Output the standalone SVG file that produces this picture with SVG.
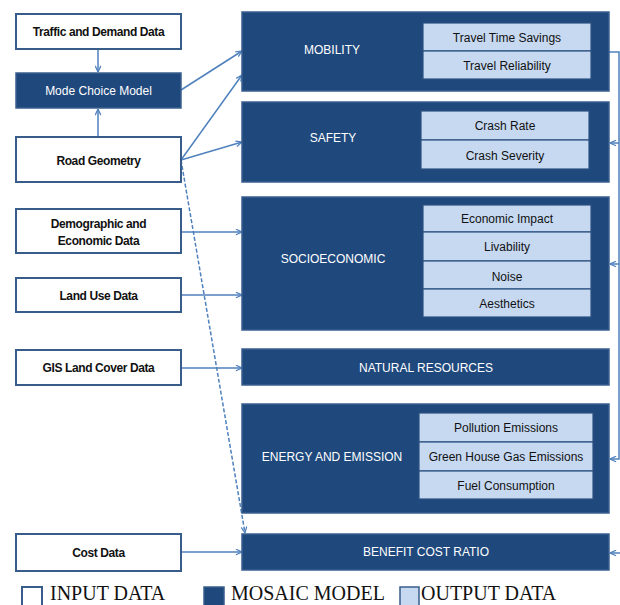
<svg xmlns="http://www.w3.org/2000/svg" width="620" height="605" viewBox="0 0 620 605">
<defs>
<marker id="arr" viewBox="0 0 8 8" refX="7.5" refY="4" markerWidth="7" markerHeight="7" orient="auto" markerUnits="userSpaceOnUse">
<path d="M0.5,0.8 L7.5,4 L0.5,7.2" fill="none" stroke="#4f81bd" stroke-width="1.4"/>
</marker>
</defs>
<style>
.in{fill:#ffffff;stroke:#385d8a;stroke-width:2}
.dk{fill:#1f497d;stroke:#3a5f8f;stroke-width:1.5}
.lt{fill:#c6d9f1;stroke:#2c5080;stroke-width:1.2}
.tin{font-family:"Liberation Sans",Arial,sans-serif;font-size:12px;font-weight:bold;fill:#111111;text-anchor:middle;letter-spacing:-0.4px}
.tdk{font-family:"Liberation Sans",Arial,sans-serif;font-size:12px;fill:#ffffff;text-anchor:middle}
.tlt{font-family:"Liberation Sans",Arial,sans-serif;font-size:12px;fill:#111111;text-anchor:middle}
.leg{font-family:"Liberation Serif","Times New Roman",serif;font-size:20px;fill:#111111}
.c{fill:none;stroke:#4f81bd;stroke-width:1.5}
</style>

<g id="connectors">
<line class="c" x1="98" y1="49" x2="98" y2="72" marker-end="url(#arr)"/>
<line class="c" x1="98" y1="137" x2="98" y2="109" marker-end="url(#arr)"/>
<line class="c" x1="181" y1="90" x2="242" y2="51" marker-end="url(#arr)"/>
<line class="c" x1="181" y1="160" x2="242" y2="75" marker-end="url(#arr)"/>
<line class="c" x1="181" y1="160" x2="242" y2="142" marker-end="url(#arr)"/>
<line class="c" x1="181" y1="160" x2="245" y2="533" stroke-dasharray="4,2" marker-end="url(#arr)"/>
<line class="c" x1="181" y1="232" x2="242" y2="232" marker-end="url(#arr)"/>
<line class="c" x1="181" y1="295" x2="242" y2="295" marker-end="url(#arr)"/>
<line class="c" x1="181" y1="368" x2="242" y2="368" marker-end="url(#arr)"/>
<line class="c" x1="181" y1="552" x2="242" y2="552" marker-end="url(#arr)"/>
<polyline class="c" points="609,52 619,52 619,459 610,459" marker-end="url(#arr)"/>
<line class="c" x1="619" y1="143" x2="610" y2="143" marker-end="url(#arr)"/>
<line class="c" x1="619" y1="264" x2="610" y2="264" marker-end="url(#arr)"/>
<line class="c" x1="621" y1="553" x2="610" y2="553" marker-end="url(#arr)"/>
</g>

<g id="traffic">
<rect class="in" x="16" y="14" width="165" height="35"/>
<text class="tin" x="98.5" y="36">Traffic and Demand Data</text>
</g>
<g id="modechoice">
<rect class="dk" x="16" y="73" width="165" height="35"/>
<text class="tdk" x="98.5" y="95">Mode Choice Model</text>
</g>
<g id="roadgeometry">
<rect class="in" x="16" y="137" width="165" height="45"/>
<text class="tin" x="98.5" y="165">Road Geometry</text>
</g>
<g id="demographic">
<rect class="in" x="16" y="209" width="165" height="44"/>
<text class="tin" x="98.5" y="228">Demographic and</text>
<text class="tin" x="98.5" y="245">Economic Data</text>
</g>
<g id="landuse">
<rect class="in" x="16" y="278" width="165" height="34"/>
<text class="tin" x="98.5" y="300">Land Use Data</text>
</g>
<g id="gis">
<rect class="in" x="16" y="350" width="165" height="35"/>
<text class="tin" x="98.5" y="372">GIS Land Cover Data</text>
</g>
<g id="cost">
<rect class="in" x="16" y="534" width="165" height="37"/>
<text class="tin" x="98.5" y="557">Cost Data</text>
</g>

<g id="mobility">
<rect class="dk" x="242" y="12" width="367" height="79"/>
<text class="tdk" x="332" y="54">MOBILITY</text>
<rect class="lt" x="423" y="23" width="168" height="28"/>
<text class="tlt" x="507" y="42">Travel Time Savings</text>
<rect class="lt" x="423" y="51" width="168" height="28"/>
<text class="tlt" x="507" y="70">Travel Reliability</text>
</g>
<g id="safety">
<rect class="dk" x="242" y="102" width="367" height="80"/>
<text class="tdk" x="333" y="142">SAFETY</text>
<rect class="lt" x="421" y="111" width="168" height="29"/>
<text class="tlt" x="505" y="130">Crash Rate</text>
<rect class="lt" x="421" y="140" width="168" height="29"/>
<text class="tlt" x="505" y="160">Crash Severity</text>
</g>
<g id="socioeconomic">
<rect class="dk" x="242" y="197" width="367" height="133"/>
<text class="tdk" x="333" y="263">SOCIOECONOMIC</text>
<rect class="lt" x="423" y="205" width="168" height="27"/>
<text class="tlt" x="507" y="223">Economic Impact</text>
<rect class="lt" x="423" y="232" width="168" height="29"/>
<text class="tlt" x="507" y="251">Livability</text>
<rect class="lt" x="423" y="261" width="168" height="28"/>
<text class="tlt" x="507" y="281">Noise</text>
<rect class="lt" x="423" y="289" width="168" height="28"/>
<text class="tlt" x="507" y="308">Aesthetics</text>
</g>
<g id="natural">
<rect class="dk" x="242" y="349" width="367" height="36"/>
<text class="tdk" x="426" y="372">NATURAL RESOURCES</text>
</g>
<g id="energy">
<rect class="dk" x="242" y="404" width="367" height="109"/>
<text class="tdk" x="332" y="461">ENERGY AND EMISSION</text>
<rect class="lt" x="419" y="413" width="174" height="29"/>
<text class="tlt" x="506" y="432">Pollution Emissions</text>
<rect class="lt" x="419" y="442" width="174" height="29"/>
<text class="tlt" x="506" y="461">Green House Gas Emissions</text>
<rect class="lt" x="419" y="471" width="174" height="28"/>
<text class="tlt" x="506" y="490">Fuel Consumption</text>
</g>
<g id="bcr">
<rect class="dk" x="242" y="534" width="367" height="36"/>
<text class="tdk" x="426" y="556">BENEFIT COST RATIO</text>
</g>

<g id="legend">
<rect x="22" y="587" width="20" height="22" fill="#ffffff" stroke="#385d8a" stroke-width="2"/>
<text class="leg" x="50" y="600">INPUT DATA</text>
<rect x="204" y="587" width="20" height="22" fill="#1f497d" stroke="#385d8a" stroke-width="1.5"/>
<text class="leg" x="231" y="600">MOSAIC MODEL</text>
<rect x="400" y="587" width="19" height="22" fill="#c6d9f1" stroke="#385d8a" stroke-width="1.5"/>
<text class="leg" x="421" y="600">OUTPUT DATA</text>
</g>
</svg>
